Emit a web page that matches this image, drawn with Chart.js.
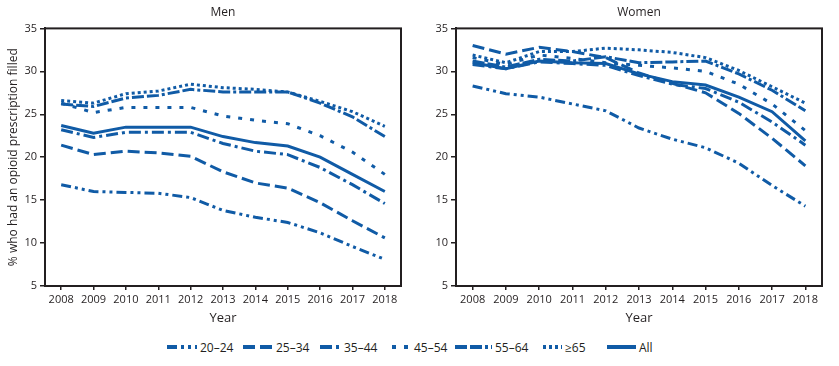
<!DOCTYPE html>
<html>
<head>
<meta charset="utf-8">
<script src="https://cdn.jsdelivr.net/npm/chart.js@4"></script>
<style>
  body { margin: 0; background: #fff; width: 839px; height: 366px; position: relative; overflow: hidden; font-family: 'Open Sans', sans-serif; }
  .box { position: absolute; top: 0; height: 326px; }
  #leftBox { left: 0; width: 410px; }
  #rightBox { left: 415px; width: 416px; }
  .item { position: absolute; top: 339px; height: 16px; display: flex; align-items: center; font-size: 12px; color: #231f20; }
  .item svg { margin-right: 3px; }
</style>
</head>
<body>
<div class="box" id="leftBox"><canvas id="menChart"></canvas></div>
<div class="box" id="rightBox"><canvas id="womenChart"></canvas></div>
<div id="legend"></div>
<script>
const years = ['2008', '2009', '2010', '2011', '2012', '2013', '2014', '2015', '2016', '2017', '2018'];
const groups = ['20–24', '25–34', '35–44', '45–54', '55–64', '≥65', 'All'];

// Men
const men2024 = [16.8, 16.0, 15.9, 15.8, 15.3, 13.8, 13.0, 12.4, 11.2, 9.6, 8.1];
const men2534 = [21.4, 20.3, 20.7, 20.5, 20.1, 18.3, 17.0, 16.4, 14.7, 12.6, 10.6];
const men3544 = [23.2, 22.3, 22.9, 22.9, 22.9, 21.6, 20.7, 20.3, 18.8, 16.8, 14.6];
const men4554 = [26.3, 25.2, 25.8, 25.8, 25.8, 24.8, 24.3, 23.9, 22.5, 20.6, 18.0];
const men5564 = [26.2, 25.9, 26.9, 27.2, 27.9, 27.6, 27.6, 27.6, 26.3, 24.7, 22.4];
const men65 = [26.6, 26.3, 27.4, 27.7, 28.5, 28.1, 27.9, 27.6, 26.5, 25.3, 23.6];
const menAll = [23.7, 22.8, 23.5, 23.5, 23.5, 22.4, 21.7, 21.3, 20.0, 18.0, 16.0];

// Women
const women2024 = [28.3, 27.4, 27.0, 26.2, 25.4, 23.4, 22.1, 21.1, 19.3, 16.7, 14.3];
const women2534 = [33.0, 32.0, 32.8, 32.3, 31.6, 29.8, 28.6, 27.5, 25.1, 22.2, 19.0];
const women3544 = [30.8, 30.3, 31.1, 30.9, 30.7, 29.5, 28.5, 28.0, 26.4, 24.1, 21.4];
const women4554 = [31.6, 30.8, 31.9, 31.5, 31.0, 30.7, 30.4, 30.0, 28.5, 26.2, 23.1];
const women5564 = [31.2, 30.5, 31.4, 31.2, 31.7, 31.0, 31.1, 31.2, 29.7, 27.8, 25.4];
const women65 = [31.9, 31.0, 32.3, 32.3, 32.7, 32.5, 32.2, 31.6, 30.1, 28.2, 26.3];
const womenAll = [31.0, 30.3, 31.2, 31.0, 30.9, 29.7, 28.8, 28.4, 27.0, 25.3, 21.9];

const yTicks = [5, 10, 15, 20, 25, 30, 35];

const blue = '#105ba6';
const ink = '#231f20';
const dashes = [
  [10, 4, 3, 4, 3, 4],
  [12, 5],
  [12, 4, 3, 4],
  [4, 8],
  [12, 3, 12, 3, 3, 3],
  [3, 3],
  []
];

function makeSets(series) {
  return series.map((d, i) => ({
    label: groups[i],
    data: d,
    borderColor: blue,
    backgroundColor: blue,
    borderWidth: 3,
    borderDash: dashes[i],
    pointRadius: 0,
    tension: 0,
    fill: false
  }));
}

const frame = {
  id: 'frame',
  afterDraw(chart) {
    const a = chart.chartArea;
    const c = chart.ctx;
    c.save();
    c.strokeStyle = ink;
    c.lineWidth = 2;
    c.strokeRect(a.left, a.top, a.right - a.left, a.bottom - a.top);
    c.restore();
  }
};

function makeChart(id, title, series, yTitle, yWidth) {
  const ctx = document.getElementById(id).getContext('2d');
  return new Chart(ctx, {
    type: 'line',
    data: { labels: years, datasets: makeSets(series) },
    options: {
      responsive: true,
      maintainAspectRatio: false,
      animation: false,
      layout: { padding: { right: 9, bottom: 0, left: 0, top: 0 } },
      plugins: {
        legend: { display: false },
        tooltip: { enabled: false },
        title: {
          display: true,
          text: title,
          fullSize: false,
          color: ink,
          font: { family: 'Open Sans', size: 12, weight: 'normal' },
          padding: { top: 5, bottom: 9 }
        }
      },
      scales: {
        x: {
          offset: true,
          grid: { drawOnChartArea: false, drawTicks: true, tickLength: 4, color: ink, lineWidth: 1.5 },
          border: { display: true, color: ink, width: 2 },
          ticks: { color: ink, font: { family: 'Open Sans', size: 11 }, padding: 3, maxRotation: 0, autoSkip: false },
          title: { display: true, text: 'Year', color: ink, font: { family: 'Open Sans', size: 13 }, padding: 0 },
          afterFit(s) { s.height = 40; }
        },
        y: {
          min: 5,
          max: 35,
          afterBuildTicks(s) { s.ticks = yTicks.map(v => ({ value: v })); },
          grid: { drawOnChartArea: false, drawTicks: true, tickLength: 5, color: ink, lineWidth: 1.5 },
          border: { display: true, color: ink, width: 2 },
          ticks: { color: ink, font: { family: 'Open Sans', size: 11 }, padding: 3 },
          title: { display: !!yTitle, text: yTitle, color: ink, font: { family: 'Open Sans', size: 12 }, padding: { top: 6, bottom: 0 } },
          afterFit(s) { s.width = yWidth; }
        }
      }
    },
    plugins: [frame]
  });
}

makeChart('menChart', 'Men', [men2024, men2534, men3544, men4554, men5564, men65, menAll],
  '% who had an opioid prescription filled', 45);
makeChart('womenChart', 'Women', [women2024, women2534, women3544, women4554, women5564, women65, womenAll],
  '', 41);

// legend
const legendPos = [167, 243, 320, 392, 455, 543, 607];
const sampleW = [30, 30, 21, 19, 37, 19, 29];
const legend = document.getElementById('legend');
groups.forEach((g, i) => {
  const item = document.createElement('div');
  item.className = 'item';
  item.style.left = legendPos[i] + 'px';
  const w = sampleW[i];
  const dash = dashes[i].length ? dashes[i].join(' ') : 'none';
  item.innerHTML = '<svg width="' + w + '" height="8"><line x1="0" y1="4" x2="' + w + '" y2="4" stroke="' + blue +
    '" stroke-width="4" stroke-dasharray="' + dash + '"/></svg><span>' + g + '</span>';
  legend.appendChild(item);
});
</script>
</body>
</html>
